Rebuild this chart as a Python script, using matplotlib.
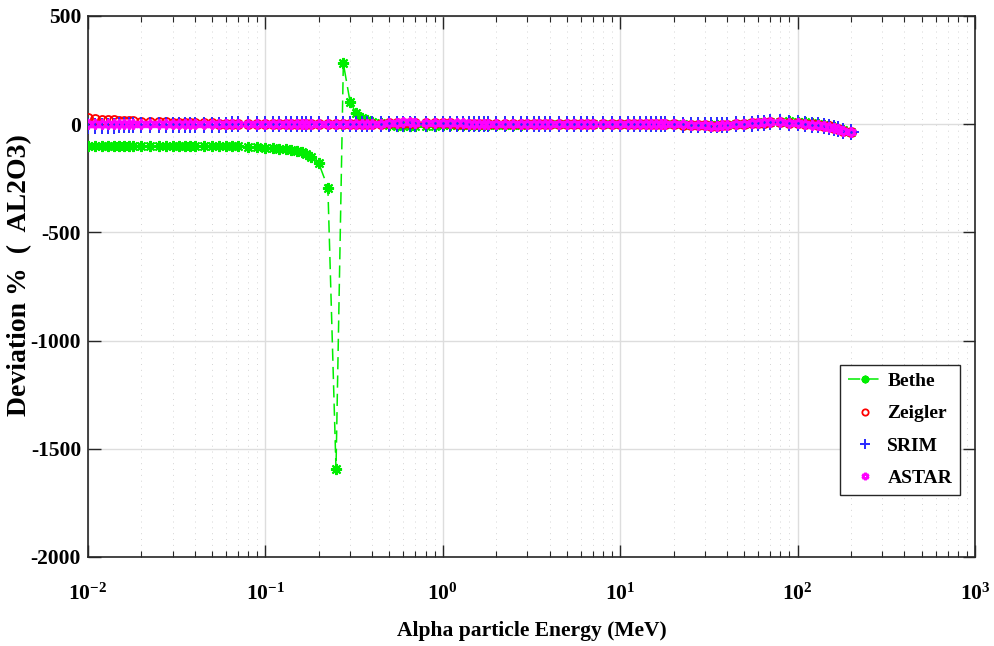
import matplotlib
matplotlib.use("Agg")
import matplotlib.pyplot as plt
from matplotlib.ticker import LogLocator, FixedLocator, NullFormatter, NullLocator

plt.rcParams['font.family'] = ['Liberation Serif', 'DejaVu Serif']
plt.rcParams['font.weight'] = 'bold'
plt.rcParams['mathtext.fontset'] = 'custom'
plt.rcParams['mathtext.rm'] = 'Liberation Serif:bold'
plt.rcParams['mathtext.it'] = 'Liberation Serif:bold'
plt.rcParams['mathtext.bf'] = 'Liberation Serif:bold'
plt.rcParams['mathtext.default'] = 'rm'

# Alpha particle energies (MeV)
energy = [0.010, 0.011, 0.012, 0.013, 0.014, 0.015, 0.016, 0.017, 0.018, 0.020, 0.0225, 0.025, 0.0275,
          0.030, 0.0325, 0.035, 0.0375, 0.040, 0.045, 0.050, 0.055, 0.060, 0.065, 0.070, 0.080, 0.090,
          0.10, 0.11, 0.12, 0.13, 0.14, 0.15, 0.16, 0.17, 0.18, 0.20, 0.225, 0.25, 0.275,
          0.30, 0.325, 0.35, 0.375, 0.40, 0.45, 0.50, 0.55, 0.60, 0.65, 0.70, 0.80, 0.90,
          1.0, 1.1, 1.2, 1.3, 1.4, 1.5, 1.6, 1.7, 1.8, 2.0, 2.25, 2.5, 2.75,
          3.0, 3.25, 3.5, 3.75, 4.0, 4.5, 5.0, 5.5, 6.0, 6.5, 7.0, 8.0, 9.0,
          10, 11, 12, 13, 14, 15, 16, 17, 18, 20, 22.5, 25, 27.5,
          30, 32.5, 35, 37.5, 40, 45, 50, 55, 60, 65, 70, 80, 90,
          100, 110, 120, 130, 140, 150, 160, 170, 180, 200]

# Deviation (%) of each stopping-power model for Al2O3
bethe = [-99, -99, -100, -100, -100, -100, -100, -100, -101, -101, -101, -101, -101,
         -101, -101, -101, -102, -102, -102, -102, -102, -103, -103, -103, -104, -107,
         -109, -111, -113, -116, -119, -124, -128, -138, -150, -181, -293, -1593, 281,
         104, 50, 30, 19, 12, 4, -3, -8, -10, -10, -9, -8, -7,
         -6, -6, -5, -5, -5, -4, -4, -4, -3, -3, -2, -2, -2,
         -1, -1, -1, 0, 0, 1, 1, 1, 1, 1, 2, 2, 2,
         2, 2, 2, 2, 2, 2, 2, 1, 1, 0, -1, -2, -3,
         -4, -5, -6, -5, -3, 0, 3, 5, 7, 8, 10, 12, 14,
         10, 8, 4, 0, -4, -8, -14, -21, -28, -36]

zeigler = [27, 24, 20, 19, 18, 16, 15, 14, 13, 12, 10, 9, 8,
           7, 6, 6, 5, 5, 4, 4, 3, 3, 3, 2, 2, 2,
           2, 2, 2, 1, 1, 1, 1, 1, 1, 1, 1, 1, 1,
           1, 1, 1, 1, 2, 3, 5, 6, 7, 7, 6, 5, 4,
           4, 4, 3, 3, 3, 3, 3, 3, 3, 3, 3, 3, 3,
           3, 3, 3, 3, 3, 3, 3, 3, 3, 3, 3, 3, 3,
           3, 3, 3, 3, 3, 2, 2, 2, 1, 0, -2, -4, -5,
           -6, -7, -7, -6, -4, -1, 1, 4, 6, 7, 8, 8, 7,
           5, 2, -1, -4, -7, -10, -16, -23, -30, -37]

srim = [-8, -8, -7, -7, -7, -6, -6, -6, -5, -5, -5, -4, -4,
        -4, -3, -3, -3, -3, -2, -2, -2, -2, -1, -1, -1, -1,
        -1, -1, -1, 0, 0, 0, 0, 0, 0, 0, 0, 0, 0,
        0, 0, 0, 0, 1, 1, 2, 3, 3, 3, 3, 2, 2,
        2, 2, 2, 1, 1, 1, 1, 1, 1, 1, 1, 1, 1,
        1, 1, 1, 1, 1, 1, 1, 1, 1, 1, 1, 1, 1,
        1, 1, 1, 1, 1, 1, 1, 0, 0, -1, -2, -3, -4,
        -5, -6, -6, -5, -3, -1, 1, 3, 5, 7, 8, 8, 6,
        4, 1, -2, -5, -8, -11, -17, -24, -30, -37]

astar = [1, 1, 1, 0, 0, 0, 0, 0, 0, 0, 0, 0, 0,
         0, 0, 0, 0, 0, 0, 0, 0, 0, 0, 0, 0, 0,
         0, 0, 0, 0, 0, 0, 0, 0, 0, 0, 0, 0, 0,
         0, 0, 0, 0, 1, 3, 5, 7, 8, 8, 7, 6, 5,
         4, 4, 4, 4, 3, 3, 3, 3, 3, 3, 3, 3, 3,
         3, 3, 3, 3, 3, 3, 3, 3, 3, 3, 3, 3, 3,
         3, 3, 3, 3, 3, 3, 3, 2, 2, 1, -1, -3, -5,
         -6, -7, -7, -6, -3, 0, 1, 4, 7, 8, 9, 9, 7,
         5, 2, -2, -5, -8, -11, -17, -24, -30, -37]

y_ticks = [-2000, -1500, -1000, -500, 0, 500]
x_ticks = [1e-2, 1e-1, 1e0, 1e1, 1e2, 1e3]
x_tick_labels = [r'$\mathdefault{10^{-2}}$', r'$\mathdefault{10^{-1}}$', r'$\mathdefault{10^{0}}$',
                 r'$\mathdefault{10^{1}}$', r'$\mathdefault{10^{2}}$', r'$\mathdefault{10^{3}}$']

fig = plt.figure(figsize=(9.95, 6.46), dpi=100)
ax = fig.add_axes([88 / 995, 1 - 557 / 646, (975 - 88) / 995, (557 - 16) / 646])

ax.plot(energy, bethe, color='#00ee00', linestyle=(0, (8, 4)), linewidth=1.1,
        marker=(8, 2, 0), markersize=8, markeredgewidth=1.5, label='Bethe', zorder=3)
ax.plot(energy, zeigler, linestyle='none', marker='o', markersize=6.5,
        markerfacecolor='none', markeredgecolor='red', markeredgewidth=1.3, label='Zeigler', zorder=4)
ax.plot(energy, srim, linestyle='none', marker='+', markersize=11,
        color='#2a2aff', markeredgewidth=1.4, label='SRIM', zorder=5)
ax.plot(energy, astar, linestyle='none', marker=(6, 1, 0), markersize=7,
        markerfacecolor='none', markeredgecolor='magenta', markeredgewidth=2.0, label='ASTAR', zorder=6)

ax.set_xscale('log')
ax.set_xlim(1e-2, 1e3)
ax.set_ylim(-2000, 500)

ax.xaxis.set_major_locator(FixedLocator(x_ticks))
ax.set_xticklabels(x_tick_labels)
ax.xaxis.set_minor_locator(LogLocator(base=10, subs=range(2, 10), numticks=20))
ax.xaxis.set_minor_formatter(NullFormatter())
ax.set_yticks(y_ticks)
ax.set_yticklabels([str(v) for v in y_ticks])
ax.yaxis.set_minor_locator(NullLocator())

ax.grid(True, which='major', color='#dddddd', linewidth=1.0, linestyle='-')
ax.grid(True, which='minor', axis='x', color='#d4d4d4', linewidth=0.7, linestyle=(0, (1, 5)))
ax.set_axisbelow(True)

ax.tick_params(which='both', direction='in', top=True, right=True, color='#262626')
ax.tick_params(which='major', length=9, width=1.0)
ax.tick_params(which='minor', length=4.5, width=0.8)
ax.tick_params(axis='x', which='major', labelsize=15.5, pad=19)
ax.tick_params(axis='y', which='major', labelsize=15.5, pad=5)
for sp in ax.spines.values():
    sp.set_color('#262626')
    sp.set_linewidth(1.2)

ax.set_xlabel('Alpha particle Energy (MeV)', fontsize=15.5, fontweight='bold', labelpad=12)
ax.set_ylabel('Deviation %  (  AL2O3)', fontsize=20, fontweight='bold')
ax.yaxis.set_label_coords(-0.063, 0.521)

leg = ax.legend(loc='upper left', bbox_to_anchor=(0.848, 0.355), borderaxespad=0,
                fancybox=False, framealpha=1, edgecolor='#262626', markerscale=0.7,
                handlelength=1.75, handletextpad=0.3, labelspacing=0.76, borderpad=0.38,
                prop={'family': 'Liberation Serif', 'weight': 'bold', 'size': 14})
leg.get_frame().set_linewidth(1.0)

fig.savefig('out.png', dpi=100)
